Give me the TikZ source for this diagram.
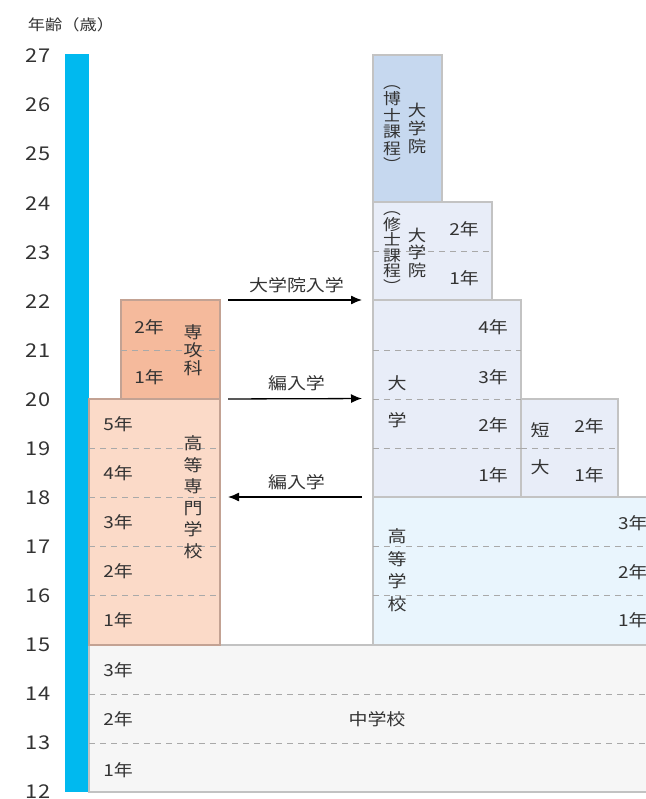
\documentclass[tikz,border=0pt]{standalone}
\usepackage{fontspec}
\setmainfont{Noto Sans CJK JP}[FakeStretch=1.15]
\usetikzlibrary{arrows.meta}
\definecolor{barblue}{HTML}{00B9EF}
\definecolor{msfill}{HTML}{F6F6F6}
\definecolor{msdraw}{HTML}{C2C2C2}
\definecolor{kosenfill}{HTML}{FBDAC8}
\definecolor{senkofill}{HTML}{F5BA9C}
\definecolor{kosendraw}{HTML}{C3A293}
\definecolor{hsfill}{HTML}{E9F5FD}
\definecolor{univfill}{HTML}{E8EDF8}
\definecolor{docfill}{HTML}{C6D8EF}
\definecolor{boxdraw}{HTML}{C3C3C3}
\definecolor{sepcol}{HTML}{A9A9A9}
\definecolor{txt}{HTML}{333333}
\begin{document}
\begin{tikzpicture}[x=1pt,y=-1pt,
  box/.style={draw=boxdraw, line width=1.3pt, inner sep=0pt, outer sep=0pt, anchor=north west},
  sepline/.style={draw=sepcol, line width=1pt, dash pattern=on 6pt off 5pt},
  lbl/.style={text=txt, inner sep=0pt, font=\fontsize{16.5}{18}\selectfont},
  agelbl/.style={text=txt, inner sep=0pt, font=\fontsize{19}{20}\selectfont},
  vtxt/.style={text=txt, inner sep=0pt, align=center},
  arr/.style={draw=black, line width=1.3pt, -{Latex[length=11pt,width=9pt]}}
]
\useasboundingbox (0,0) rectangle (645,799);

% title
\node[lbl, font=\fontsize{15}{16}\selectfont] (title) at (71,25) {年齢（歳）};

% age axis bar and labels
\fill[barblue] (65,54) rectangle (89,792);
\foreach \a in {12,...,27}{
  \node[agelbl] (age\a) at (38,{792-(\a-12)*49.07}) {\a};
}

% boxes
\node[box, fill=msfill, draw=msdraw, minimum width=570pt, minimum height=147pt] (ms) at (89,645) {};
\node[box, fill=kosenfill, draw=kosendraw, minimum width=131pt, minimum height=246pt] (kosen) at (89,399) {};
\node[box, fill=senkofill, draw=kosendraw, minimum width=99pt, minimum height=99pt] (senko) at (121,300) {};
\node[box, fill=hsfill, minimum width=290pt, minimum height=148pt] (hs) at (373,497) {};
\node[box, fill=univfill, minimum width=148pt, minimum height=197pt] (univ) at (373,300) {};
\node[box, fill=univfill, minimum width=97pt, minimum height=98pt] (tandai) at (521,399) {};
\node[box, fill=univfill, minimum width=119pt, minimum height=98pt] (master) at (373,202) {};
\node[box, fill=docfill, minimum width=69pt, minimum height=147pt] (doctor) at (373,55) {};

% separators
\foreach \yy in {694,743}{\draw[sepline] (89,\yy) -- (660,\yy);}
\foreach \yy in {448.5,497.5,546.5,595.5}{\draw[sepline] (89,\yy) -- (220,\yy);}
\draw[sepline] (121,350.5) -- (220,350.5);
\foreach \yy in {546.5,595.5}{\draw[sepline] (373,\yy) -- (660,\yy);}
\foreach \yy in {350.5,399.5,448.5}{\draw[sepline] (373,\yy) -- (521,\yy);}
\draw[sepline] (521,448.5) -- (618,448.5);
\draw[sepline] (373,251.5) -- (492,251.5);

% middle school labels
\node[lbl, anchor=east] (ms3) at (133,670) {3年};
\node[lbl, anchor=east] (ms2) at (133,719) {2年};
\node[lbl, anchor=east] (ms1) at (133,770) {1年};
\node[lbl] (mstxt) at (377,719) {中学校};

% kosen labels
\node[lbl, anchor=east] (k5) at (133,424) {5年};
\node[lbl, anchor=east] (k4) at (133,473) {4年};
\node[lbl, anchor=east] (k3) at (133,522) {3年};
\node[lbl, anchor=east] (k2) at (133,571) {2年};
\node[lbl, anchor=east] (k1) at (133,620) {1年};
\node[vtxt, font=\fontsize{16.5}{21.5}\selectfont] (kosentxt) at (193,497) {高\\等\\専\\門\\学\\校};

% senkoka labels
\node[lbl, anchor=east] (s2) at (164,327) {2年};
\node[lbl, anchor=east] (s1) at (164,377) {1年};
\node[vtxt, font=\fontsize{16.5}{18}\selectfont] (senkotxt) at (193,350) {専\\攻\\科};

% high school labels
\node[lbl, anchor=west] (h3) at (618,523) {3年};
\node[lbl, anchor=west] (h2) at (618,572) {2年};
\node[lbl, anchor=west] (h1) at (618,620) {1年};
\node[vtxt, font=\fontsize{16.5}{22.5}\selectfont] (hstxt) at (397,570) {高\\等\\学\\校};

% university labels
\node[lbl, anchor=east] (u4) at (508,327) {4年};
\node[lbl, anchor=east] (u3) at (508,377) {3年};
\node[lbl, anchor=east] (u2) at (508,425) {2年};
\node[lbl, anchor=east] (u1) at (508,475) {1年};
\node[vtxt, font=\fontsize{16.5}{37}\selectfont] (univtxt) at (397,401.5) {大\\学};

% tandai labels
\node[lbl, anchor=east] (t2) at (604,426) {2年};
\node[lbl, anchor=east] (t1) at (604,475) {1年};
\node[vtxt, font=\fontsize{16.5}{37}\selectfont] (tandaitxt) at (540,448.5) {短\\大};

% master labels
\node[lbl, anchor=east] (m2) at (479,229) {2年};
\node[lbl, anchor=east] (m1) at (479,278) {1年};
\node[vtxt, font=\fontsize{15.5}{15.5}\selectfont] (mastertxta) at (392,252) {︵\\修\\士\\課\\程\\︶};
\node[vtxt, font=\fontsize{16}{17.5}\selectfont] (mastertxtb) at (417,252.5) {大\\学\\院};

% doctor labels
\node[vtxt, font=\fontsize{15.5}{16.5}\selectfont] (doctortxta) at (392,128) {︵\\博\\士\\課\\程\\︶};
\node[vtxt, font=\fontsize{16}{18}\selectfont] (doctortxtb) at (417,128.5) {大\\学\\院};

% arrows
\draw[arr, shorten <=8pt, shorten >=11pt] (senko.north east) -- node[lbl, midway, above=7pt] (lblA) {大学院入学} (univ.north west);
\draw[arr, shorten <=8pt, shorten >=11pt] (senko.south east) -- node[lbl, midway, above=7pt] (lblB) {編入学} (univ.west);
\draw[arr, shorten <=11pt, shorten >=8pt] (univ.south west) -- node[lbl, midway, above=7pt] (lblC) {編入学} (kosen.east |- univ.south west);
\end{tikzpicture}
\end{document}
